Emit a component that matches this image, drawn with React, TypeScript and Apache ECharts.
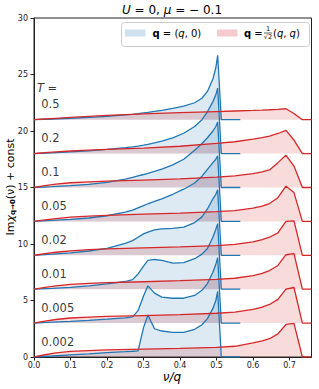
import React, { useEffect, useRef } from 'react';
import * as echarts from 'echarts';

// Temperatures (bottom to top) and vertical offsets (+ const)
const temps = ['0.002', '0.005', '0.01', '0.02', '0.05', '0.1', '0.2', '0.5'];
const offsets = [0, 3, 6, 9, 12, 15, 18, 21];

// q = (q,0) : blue curves, values relative to their offset
const xBlue = [0, 0.05, 0.1, 0.15, 0.2, 0.25, 0.27, 0.285, 0.3, 0.312, 0.33, 0.35, 0.38, 0.41, 0.44, 0.46, 0.475, 0.49, 0.498, 0.503, 0.513, 0.565];
const blueT0002 = [0, 0.09, 0.19, 0.28, 0.38, 0.47, 0.51, 0.55, 2.6, 3.72, 2.5, 2.3, 2.18, 2.18, 2.45, 2.85, 3.4, 4.3, 5.0, 5.8, 0, 0];
const blueT0005 = [0, 0.08, 0.16, 0.25, 0.35, 0.47, 0.55, 1.1, 2.4, 3.3, 2.65, 2.3, 2.2, 2.2, 2.45, 2.9, 3.5, 4.5, 5.2, 5.8, 0, 0];
const blueT001 = [0, 0.08, 0.17, 0.3, 0.48, 0.68, 0.85, 1.35, 2.05, 2.55, 2.63, 2.55, 2.3, 2.35, 2.7, 3.1, 3.6, 4.6, 5.3, 5.8, 0, 0];
const blueT002 = [0, 0.1, 0.22, 0.38, 0.62, 1.05, 1.3, 1.6, 1.9, 2.05, 2.25, 2.33, 2.38, 2.5, 2.9, 3.4, 4.1, 5.0, 5.4, 5.8, 0, 0];
const blueT005 = [0, 0.09, 0.18, 0.3, 0.5, 0.82, 1.0, 1.2, 1.4, 1.56, 1.78, 2.0, 2.4, 2.85, 3.4, 4.0, 4.6, 5.2, 5.5, 5.8, 0, 0];
const blueT01 = [0, 0.08, 0.17, 0.28, 0.45, 0.75, 0.9, 1.03, 1.15, 1.25, 1.42, 1.62, 2.0, 2.5, 3.3, 3.9, 4.4, 5.0, 5.4, 5.8, 0, 0];
const blueT02 = [0, 0.07, 0.15, 0.25, 0.37, 0.52, 0.6, 0.67, 0.75, 0.82, 0.94, 1.1, 1.4, 1.8, 2.4, 3.0, 3.7, 4.6, 5.2, 5.8, 0, 0];
const blueT05 = [0, 0.06, 0.13, 0.2, 0.3, 0.42, 0.48, 0.53, 0.6, 0.65, 0.73, 0.83, 1.0, 1.2, 1.5, 1.9, 2.5, 3.6, 4.6, 5.7, 0, 0];
const blueSets = [blueT0002, blueT0005, blueT001, blueT002, blueT005, blueT01, blueT02, blueT05];

// q = (q,q)/sqrt2 : red curves, values relative to their offset
const xRed = [0, 0.01, 0.03, 0.06, 0.1, 0.15, 0.2, 0.3, 0.4, 0.5, 0.55, 0.6, 0.625, 0.645, 0.668, 0.69, 0.712, 0.735, 0.76];
const redT0002 = [0, 0.08, 0.2, 0.36, 0.49, 0.57, 0.63, 0.7, 0.76, 0.86, 0.95, 1.25, 1.42, 1.62, 2.05, 2.88, 2.98, 0, 0];
const redT0005 = [0, 0.07, 0.18, 0.32, 0.45, 0.53, 0.59, 0.67, 0.75, 0.87, 0.97, 1.22, 1.42, 1.65, 2.1, 3.0, 3.15, 0, 0];
const redT001 = [0, 0.06, 0.16, 0.3, 0.43, 0.52, 0.58, 0.66, 0.75, 0.87, 0.97, 1.2, 1.4, 1.65, 2.1, 3.05, 3.15, 0, 0];
const redT002 = [0, 0.05, 0.14, 0.27, 0.4, 0.5, 0.56, 0.65, 0.74, 0.86, 0.96, 1.18, 1.38, 1.6, 1.98, 3.0, 3.05, 0, 0];
const redT005 = [0, 0.05, 0.13, 0.25, 0.37, 0.47, 0.54, 0.64, 0.74, 0.86, 0.96, 1.17, 1.36, 1.58, 2.1, 3.12, 2.55, 0, 0];
const redT01 = [0, 0.06, 0.17, 0.3, 0.42, 0.5, 0.56, 0.66, 0.77, 0.92, 1.03, 1.22, 1.38, 1.55, 2.2, 2.85, 1.9, 0, 0];
const redT02 = [0, 0.03, 0.08, 0.15, 0.23, 0.31, 0.37, 0.48, 0.65, 0.9, 1.05, 1.28, 1.42, 1.55, 1.78, 2.05, 1.2, 0, 0];
const redT05 = [0, 0.02, 0.06, 0.12, 0.2, 0.29, 0.38, 0.52, 0.62, 0.72, 0.77, 0.82, 0.85, 0.88, 0.92, 0.97, 0.55, 0, 0];
const redSets = [redT0002, redT0005, redT001, redT002, redT005, redT01, redT02, redT05];

const yTicks = [0, 5, 10, 15, 20, 25, 30];

const FONT = 'DejaVu Sans';
const BLUE = '#1f77b4';
const RED = '#d62728';
const BLUE_FILL = 'rgba(31,119,180,0.22)';
const RED_FILL = 'rgba(214,39,40,0.24)';

function buildOption() {
  const series: any[] = [];
  offsets.forEach((off, i) => {
    series.push({
      type: 'line',
      name: 'blue' + temps[i],
      data: xBlue.map((x, k) => [x, off + blueSets[i][k]]),
      symbol: 'none',
      silent: true,
      lineStyle: { color: BLUE, width: 1.3 },
      areaStyle: { color: BLUE_FILL, origin: off },
    });
    series.push({
      type: 'line',
      name: 'red' + temps[i],
      data: xRed.map((x, k) => [x, off + redSets[i][k]]),
      symbol: 'none',
      silent: true,
      lineStyle: { color: RED, width: 1.3 },
      areaStyle: { color: RED_FILL, origin: off },
    });
  });
  // T labels
  series.push({
    type: 'scatter',
    symbolSize: 0,
    silent: true,
    data: [
      { name: 'T =', value: [0.008, 23.8], label: { formatter: '{i|T} =' } },
      ...temps.map((t, i) => ({ name: t, value: [0.02, offsets[i] + 1.35] })),
    ],
    label: {
      show: true,
      position: 'right',
      distance: 0,
      formatter: '{b}',
      fontFamily: FONT,
      fontSize: 11.5,
      color: '#000',
      rich: { i: { fontFamily: FONT, fontSize: 11.5, fontStyle: 'italic', color: '#000' } },
    },
    z: 10,
  });

  const sub = { fontFamily: FONT, fontSize: 6.5, color: '#000' };
  return {
    animation: false,
    grid: { left: 34, right: 7.5, top: 18, bottom: 32, show: true, borderColor: '#222', borderWidth: 1, backgroundColor: 'transparent' },
    xAxis: {
      type: 'value',
      min: 0,
      max: 0.76,
      interval: 0.1,
      axisLine: { show: true, lineStyle: { color: '#222', width: 1 } },
      axisTick: { show: true, length: 3.5, lineStyle: { color: '#222' } },
      splitLine: { show: false },
      axisLabel: {
        fontFamily: FONT,
        fontSize: 8,
        color: '#222',
        margin: 4,
        showMaxLabel: false,
        formatter: (v: number) => (Math.abs(v * 10 - Math.round(v * 10)) < 1e-6 ? v.toFixed(1) : ''),
      },
    },
    yAxis: {
      type: 'value',
      min: 0,
      max: 30,
      interval: 5,
      axisLine: { show: true, lineStyle: { color: '#222', width: 1 } },
      axisTick: { show: true, length: 3.5, lineStyle: { color: '#222' } },
      splitLine: { show: false },
      axisLabel: {
        fontFamily: FONT,
        fontSize: 8,
        color: '#222',
        margin: 6,
        formatter: (v: number) => (yTicks.includes(v) ? String(v) : ''),
      },
    },
    series,
    graphic: [
      // title
      {
        type: 'text',
        x: 172,
        y: 10,
        style: {
          text: '{i|U} = 0, {i|μ} = − 0.1',
          align: 'center',
          verticalAlign: 'middle',
          fontFamily: FONT,
          fontSize: 12,
          fill: '#000',
          rich: { i: { fontFamily: FONT, fontSize: 12, fontStyle: 'italic', fill: '#000' } },
        },
      },
      // y axis name
      {
        type: 'text',
        x: 10,
        y: 187,
        rotation: Math.PI / 2,
        style: {
          text: 'Im{g|χ}{s|q→0}(ν) + const',
          align: 'center',
          verticalAlign: 'middle',
          fontFamily: FONT,
          fontSize: 11,
          fill: '#000',
          rich: {
            g: { fontFamily: FONT, fontSize: 11, fontStyle: 'italic', fill: '#000' },
            s: { fontFamily: FONT, fontSize: 7, fontWeight: 'bold', fill: '#000', verticalAlign: 'bottom', padding: [5, 0, 0, 0] },
          },
        },
      },
      // x axis name
      {
        type: 'text',
        x: 172,
        y: 377,
        style: {
          text: 'ν/q',
          align: 'center',
          verticalAlign: 'middle',
          fontFamily: FONT,
          fontSize: 12,
          fontStyle: 'italic',
          fill: '#000',
        },
      },
      // legend
      {
        type: 'rect',
        shape: { x: 121.5, y: 22.5, width: 188, height: 24, r: 3 },
        style: { fill: 'rgba(255,255,255,0.85)', stroke: '#cccccc', lineWidth: 1 },
        z: 100,
      },
      {
        type: 'rect',
        shape: { x: 125, y: 29.5, width: 20.5, height: 7 },
        style: { fill: BLUE_FILL, stroke: 'none' },
        z: 101,
      },
      {
        type: 'text',
        x: 152.5,
        y: 33,
        z: 101,
        style: {
          text: '{b|q} = ({i|q}, 0)',
          verticalAlign: 'middle',
          fontFamily: FONT,
          fontSize: 10,
          fill: '#000',
          rich: {
            b: { fontFamily: FONT, fontSize: 10, fontWeight: 'bold', fill: '#000' },
            i: { fontFamily: FONT, fontSize: 10, fontStyle: 'italic', fill: '#000' },
          },
        },
      },
      {
        type: 'rect',
        shape: { x: 217, y: 29.5, width: 20.5, height: 7 },
        style: { fill: RED_FILL, stroke: 'none' },
        z: 101,
      },
      {
        type: 'text',
        x: 244,
        y: 33,
        z: 101,
        style: {
          text: '{b|q} =',
          verticalAlign: 'middle',
          fontFamily: FONT,
          fontSize: 10,
          fill: '#000',
          rich: { b: { fontFamily: FONT, fontSize: 10, fontWeight: 'bold', fill: '#000' } },
        },
      },
      { type: 'text', x: 268, y: 32.5, z: 101, style: { ...sub, text: '1', align: 'center', verticalAlign: 'bottom', fill: '#000' } },
      { type: 'line', shape: { x1: 264, y1: 33, x2: 272, y2: 33 }, style: { stroke: '#000', lineWidth: 0.6 }, z: 101 },
      { type: 'text', x: 268, y: 33.5, z: 101, style: { ...sub, text: '√2', align: 'center', verticalAlign: 'top', fill: '#000' } },
      {
        type: 'text',
        x: 273,
        y: 33,
        z: 101,
        style: {
          text: '({i|q}, {i|q})',
          verticalAlign: 'middle',
          fontFamily: FONT,
          fontSize: 10,
          fill: '#000',
          rich: { i: { fontFamily: FONT, fontSize: 10, fontStyle: 'italic', fill: '#000' } },
        },
      },
    ],
  };
}

export default function App() {
  const ref = useRef<HTMLDivElement>(null);
  useEffect(() => {
    if (!ref.current) return;
    const chart = echarts.init(ref.current, null, { renderer: 'svg' });
    chart.setOption(buildOption() as any);
    return () => chart.dispose();
  }, []);
  return <div ref={ref} style={{ position: 'absolute', left: 0, top: 0, width: 319, height: 389 }} />;
}
